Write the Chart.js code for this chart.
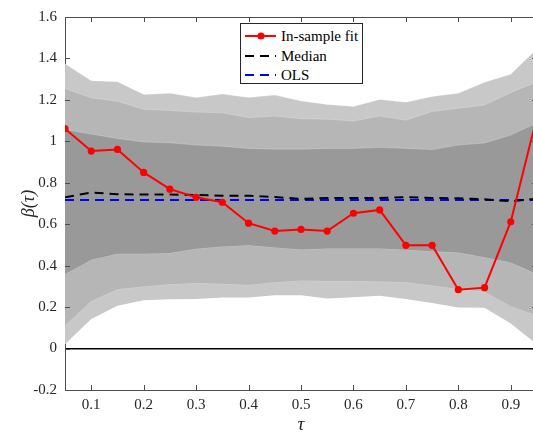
<!DOCTYPE html>
<html>
<head>
<meta charset="utf-8">
<script src="https://cdn.jsdelivr.net/npm/chart.js@4.4.1/dist/chart.umd.min.js"></script>
<style>
  html, body { margin: 0; padding: 0; background: #fff; overflow: hidden; }
  #wrap { position: relative; width: 533px; height: 434px; overflow: hidden; }
  #legend {
    position: absolute; left: 240px; top: 23px; width: 121px; height: 59px;
    border: 1px solid #262626; background: #fff;
    font-family: "Liberation Serif", "Times New Roman", Times, "DejaVu Serif", serif; font-size: 15px; color: #000;
  }
  #legend .row { position: absolute; left: 0; height: 18px; line-height: 18px; }
  #legend svg { position: absolute; left: 3px; top: 0; }
  #legend span { position: absolute; left: 40px; top: 0; white-space: nowrap; }
</style>
</head>
<body>
<div id="wrap">
  <canvas id="chart" width="541" height="434"></canvas>
  <div id="legend"></div>
</div>
<script>
// quantile levels
const tau = [0.05, 0.1, 0.15, 0.2, 0.25, 0.3, 0.35, 0.4, 0.45, 0.5, 0.55, 0.6, 0.65, 0.7, 0.75, 0.8, 0.85, 0.9, 0.95];

// in-sample fit, median and OLS estimates
const fit = [1.061, 0.953, 0.961, 0.850, 0.769, 0.730, 0.706, 0.605, 0.567, 0.575, 0.567, 0.653, 0.669, 0.498, 0.498, 0.284, 0.294, 0.612, 1.12];
const median = [0.730, 0.753, 0.745, 0.743, 0.743, 0.741, 0.738, 0.738, 0.731, 0.722, 0.727, 0.727, 0.727, 0.730, 0.727, 0.725, 0.720, 0.711, 0.723];
const ols = [0.717, 0.717, 0.717, 0.717, 0.717, 0.717, 0.717, 0.717, 0.717, 0.717, 0.717, 0.717, 0.717, 0.717, 0.717, 0.717, 0.717, 0.717, 0.717];

// bands (outer / middle / inner)
const outerUpper = [1.375, 1.292, 1.288, 1.226, 1.232, 1.211, 1.228, 1.211, 1.223, 1.195, 1.178, 1.168, 1.202, 1.189, 1.216, 1.232, 1.285, 1.324, 1.447];
const midUpper = [1.255, 1.210, 1.194, 1.155, 1.149, 1.141, 1.138, 1.115, 1.122, 1.109, 1.107, 1.098, 1.122, 1.102, 1.144, 1.160, 1.175, 1.235, 1.287];
const innerUpper = [1.057, 1.035, 1.014, 0.997, 0.993, 0.982, 0.976, 0.966, 0.962, 0.962, 0.966, 0.966, 0.971, 0.966, 0.960, 0.982, 0.992, 1.030, 1.09];
const innerLower = [0.358, 0.429, 0.458, 0.458, 0.461, 0.482, 0.493, 0.498, 0.488, 0.478, 0.483, 0.483, 0.483, 0.477, 0.469, 0.463, 0.441, 0.415, 0.36];
const midLower = [0.111, 0.230, 0.286, 0.300, 0.310, 0.316, 0.313, 0.307, 0.320, 0.329, 0.326, 0.326, 0.323, 0.320, 0.304, 0.288, 0.274, 0.204, 0.16];
const outerLower = [0.021, 0.143, 0.206, 0.233, 0.238, 0.239, 0.246, 0.246, 0.257, 0.257, 0.241, 0.247, 0.255, 0.239, 0.220, 0.198, 0.197, 0.121, 0.02];

const xTicks = [0.1, 0.2, 0.3, 0.4, 0.5, 0.6, 0.7, 0.8, 0.9];
const yTicks = [-0.2, 0, 0.2, 0.4, 0.6, 0.8, 1, 1.2, 1.4, 1.6];

const FONT = '"Liberation Serif", "Times New Roman", Times, "DejaVu Serif", serif';
const AXIS = '#4d4d4d';

const pts = (arr) => arr.map((v, i) => ({ x: tau[i], y: v }));

function band(data, fill, color) {
  return {
    data: pts(data),
    fill: fill ? '+1' : false,
    backgroundColor: color,
    borderColor: 'rgba(255,255,255,0.22)',
    borderWidth: 1,
    pointRadius: 0,
    tension: 0,
  };
}

// inward tick marks + top box edge, like the original figure
const boxTicks = {
  id: 'boxTicks',
  afterDatasetsDraw(chart) {
    const { ctx, chartArea: a, scales: { x, y } } = chart;
    ctx.save();
    ctx.strokeStyle = AXIS;
    ctx.lineWidth = 1;
    ctx.beginPath();
    ctx.moveTo(a.left, a.top + 0.5);
    ctx.lineTo(a.right, a.top + 0.5);
    x.ticks.forEach(t => {
      const px = Math.round(x.getPixelForValue(t.value)) + 0.5;
      ctx.moveTo(px, a.bottom); ctx.lineTo(px, a.bottom - 5);
      ctx.moveTo(px, a.top); ctx.lineTo(px, a.top + 5);
    });
    y.ticks.forEach(t => {
      const py = Math.round(y.getPixelForValue(t.value)) + 0.5;
      ctx.moveTo(a.left, py); ctx.lineTo(a.left + 5, py);
      ctx.moveTo(a.right, py); ctx.lineTo(a.right - 5, py);
    });
    ctx.stroke();
    ctx.restore();
  }
};

const chart = new Chart(document.getElementById('chart'), {
  type: 'line',
  data: {
    datasets: [
      {
        label: 'In-sample fit',
        data: pts(fit),
        borderColor: '#ff0000',
        backgroundColor: '#ff0000',
        borderWidth: 2,
        pointRadius: 3.6,
        pointBackgroundColor: '#ff0000',
        pointBorderWidth: 0,
        fill: false,
      },
      {
        label: 'Median',
        data: pts(median),
        borderColor: '#000000',
        borderWidth: 2,
        borderDash: [9, 6],
        pointRadius: 0,
        fill: false,
      },
      {
        label: 'OLS',
        data: pts(ols),
        borderColor: '#0000ff',
        borderWidth: 2,
        borderDash: [9, 6],
        pointRadius: 0,
        fill: false,
      },
      band(innerUpper, true, '#999999'),
      band(innerLower, false),
      band(midUpper, true, '#b6b6b6'),
      band(midLower, false),
      band(outerUpper, true, '#c8c8c8'),
      band(outerLower, false),
    ],
  },
  options: {
    responsive: false,
    animation: false,
    layout: { padding: { top: 16, right: 2, left: 0, bottom: 0 } },
    scales: {
      x: {
        type: 'linear',
        min: 0.05,
        max: 0.95,
        afterBuildTicks: (s) => { s.ticks = xTicks.map(v => ({ value: v })); },
        afterFit: (s) => { s.height = 44; },
        grid: { display: false, drawTicks: false },
        border: { display: true, color: AXIS, width: 1 },
        ticks: {
          padding: 6,
          color: '#262626',
          font: { family: FONT, size: 15 },
          callback: (v) => String(v),
        },
        title: {
          display: true,
          text: 'τ',
          color: '#262626',
          font: { family: FONT, size: 19, style: 'italic', lineHeight: 1 },
          padding: { top: -3, bottom: 0 },
        },
      },
      y: {
        min: -0.2,
        max: 1.6,
        afterBuildTicks: (s) => { s.ticks = yTicks.map(v => ({ value: v })); },
        afterFit: (s) => { s.width = 65; },
        grid: {
          drawTicks: false,
          lineWidth: 1.5,
          color: (c) => (c.tick && c.tick.value === 0 ? '#000000' : 'rgba(0,0,0,0)'),
        },
        border: { display: true, color: AXIS, width: 1 },
        ticks: {
          padding: 8,
          color: '#262626',
          font: { family: FONT, size: 15 },
          callback: (v) => String(v),
        },
        title: {
          display: true,
          text: 'β(τ)',
          color: '#262626',
          font: { family: FONT, size: 18, style: 'italic', lineHeight: 1 },
          padding: { top: 20, bottom: 0 },
        },
      },
    },
    plugins: {
      legend: { display: false },
      tooltip: { enabled: false },
    },
  },
  plugins: [boxTicks],
});

// html legend from the labelled datasets
const legend = document.getElementById('legend');
chart.data.datasets.filter(d => d.label).forEach((d, i) => {
  const row = document.createElement('div');
  row.className = 'row';
  row.style.top = (3 + i * 19.5) + 'px';
  row.style.width = '121px';
  const dash = d.borderDash ? 'stroke-dasharray="9 6"' : '';
  const dot = d.pointRadius ? `<circle cx="17" cy="9" r="3.6" fill="${d.borderColor}"/>` : '';
  row.innerHTML = `<svg width="34" height="18"><line x1="1" y1="9" x2="32" y2="9" stroke="${d.borderColor}" stroke-width="2" ${dash}/>${dot}</svg><span>${d.label}</span>`;
  legend.appendChild(row);
});
</script>
</body>
</html>
